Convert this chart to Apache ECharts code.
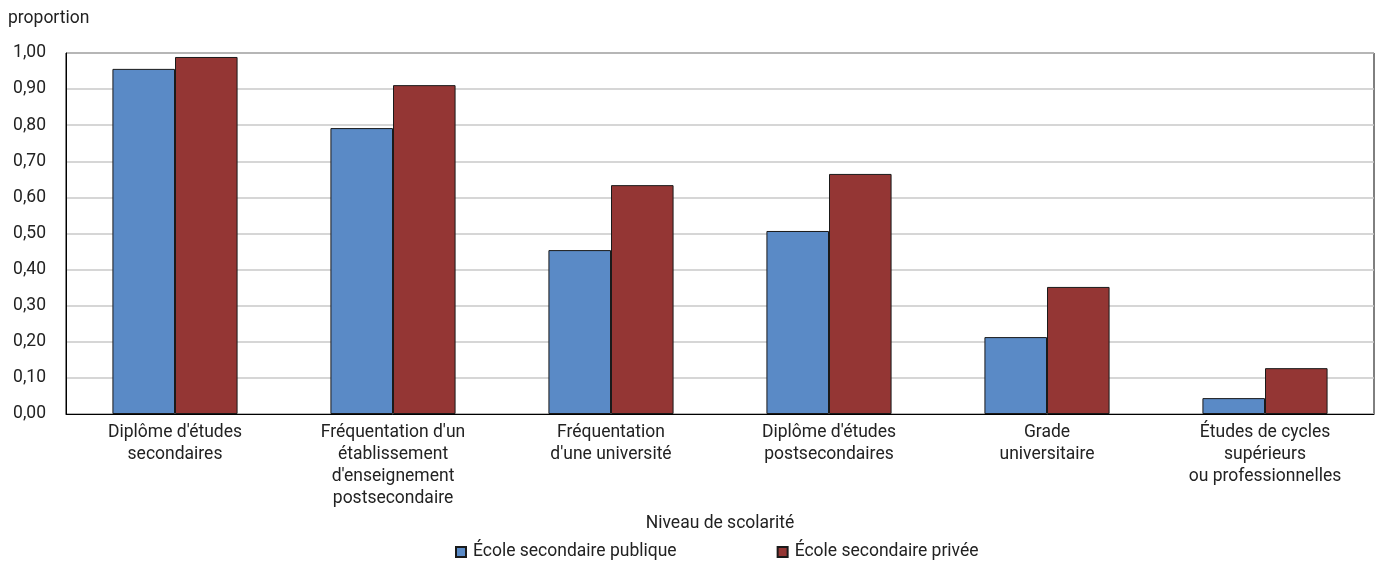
<!DOCTYPE html>
<html><head><meta charset="utf-8">
<script src="https://cdn.jsdelivr.net/npm/echarts@6/dist/echarts.min.js"></script>
<style>html,body{margin:0;padding:0;background:#fff}#c{width:1375px;height:563px}</style>
</head><body><div id="c"></div>
<script>
const categories = ["Diplôme d'études\nsecondaires", "Fréquentation d'un\nétablissement\nd'enseignement\npostsecondaire", "Fréquentation\nd'une université", "Diplôme d'études\npostsecondaires", "Grade\nuniversitaire", "Études de cycles\nsupérieurs\nou professionnelles"];
const seriesNames = ["École secondaire publique", "École secondaire privée"];
const publique = [0.956, 0.792, 0.454, 0.507, 0.213, 0.044];
const privee = [0.989, 0.911, 0.634, 0.665, 0.352, 0.127];
const yTicks = {min: 0, max: 1, interval: 0.1};
const FONT = '"Roboto", "Liberation Sans", sans-serif';
const FS = 17.5;
const chart = echarts.init(document.getElementById('c'), null, {renderer: 'canvas'});
chart.setOption({
  animation: false,
  textStyle: {fontFamily: FONT, color: '#222'},
  grid: {left: 66, right: 1, top: 53, bottom: 149, show: true, borderColor: '#000', borderWidth: 1, backgroundColor: 'transparent'},
  graphic: [{type: 'text', left: 8, top: 10, style: {text: 'proportion', font: FS + 'px ' + FONT, fill: '#222'}}],
  legend: {
    top: 538, left: 450, itemWidth: 10, itemHeight: 10, itemGap: 100, icon: 'rect',
    textStyle: {fontFamily: FONT, fontSize: FS, color: '#222', padding: [0, 0, 0, 2]},
    data: seriesNames
  },
  xAxis: {
    type: 'category', data: categories,
    name: 'Niveau de scolarité', nameLocation: 'middle', nameGap: 96,
    nameTextStyle: {fontFamily: FONT, fontSize: FS, color: '#222'},
    axisLine: {lineStyle: {color: '#000', width: 1}},
    axisTick: {show: false},
    axisLabel: {fontFamily: FONT, fontSize: FS, color: '#222', lineHeight: 22, margin: 8, interval: 0}
  },
  yAxis: {
    type: 'value', min: yTicks.min, max: yTicks.max, interval: yTicks.interval,
    axisLine: {show: true, lineStyle: {color: '#000', width: 1}},
    axisTick: {show: false},
    splitLine: {lineStyle: {color: '#c8c8c8', width: 1.5}},
    axisLabel: {fontFamily: FONT, fontSize: FS, color: '#222', margin: 20,
      formatter: v => v.toFixed(2).replace('.', ',')}
  },
  series: [
    {name: seriesNames[0], type: 'bar', data: publique, barGap: '0%', barCategoryGap: '42.6%',
      itemStyle: {color: '#5A8AC6', borderColor: '#1a1a1a', borderWidth: 1}},
    {name: seriesNames[1], type: 'bar', data: privee, barGap: '0%', barCategoryGap: '42.6%',
      itemStyle: {color: '#943634', borderColor: '#1a1a1a', borderWidth: 1}}
  ]
});
</script></body></html>
